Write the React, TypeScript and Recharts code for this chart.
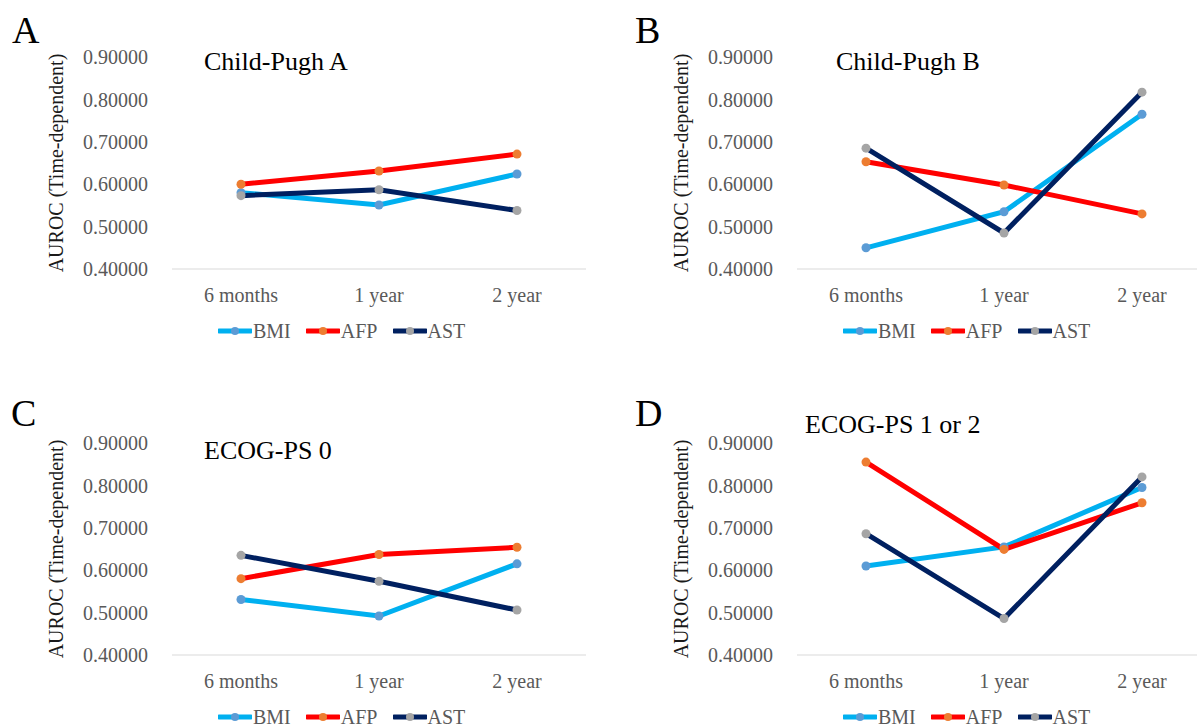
import React from 'react';
import { LineChart, Line, XAxis, YAxis, Legend } from 'recharts';

// time points on the x axis
const periods = ['6 months', '1 year', '2 year'];
const yTicks = [0.4, 0.5, 0.6, 0.7, 0.8, 0.9];

// AUROC values read per panel
const bmiA = [0.58, 0.551, 0.624];
const afpA = [0.6, 0.631, 0.671];
const astA = [0.573, 0.587, 0.538];

const bmiB = [0.45, 0.535, 0.765];
const afpB = [0.653, 0.598, 0.53];
const astB = [0.685, 0.485, 0.817];

const bmiC = [0.531, 0.492, 0.615];
const afpC = [0.58, 0.637, 0.654];
const astC = [0.635, 0.574, 0.506];

const bmiD = [0.61, 0.655, 0.795];
const afpD = [0.855, 0.649, 0.759];
const astD = [0.686, 0.486, 0.82];

const SERIES = [
  { key: 'BMI', color: '#00B0F0', marker: '#5B9BD5' },
  { key: 'AFP', color: '#FF0000', marker: '#ED7D31' },
  { key: 'AST', color: '#002060', marker: '#A5A5A5' },
];

const FONT = "'Liberation Serif', 'Times New Roman', serif";

const buildRows = (bmi: number[], afp: number[], ast: number[]) =>
  periods.map((p, i) => ({ period: p, BMI: bmi[i], AFP: afp[i], AST: ast[i] }));

const renderYLabel = (props: any) => {
  const vb = props.viewBox || {};
  const cx = (vb.x ?? 0) + 56;
  const cy = (vb.y ?? 57) + (vb.height ?? 212) / 2;
  return (
    <text
      x={cx}
      y={cy}
      transform={`rotate(-90, ${cx}, ${cy})`}
      textAnchor="middle"
      dominantBaseline="central"
      fontFamily={FONT}
      fontSize={20}
      fill="#1a1a1a"
    >
      AUROC (Time-dependent)
    </text>
  );
};

const renderLegend = () => (
  <div
    style={{
      display: 'flex',
      alignItems: 'center',
      height: 20,
      fontFamily: FONT,
      fontSize: 20,
      color: '#595959',
      whiteSpace: 'nowrap',
    }}
  >
    {SERIES.map((s) => (
      <div key={s.key} style={{ display: 'flex', alignItems: 'center', marginRight: 15 }}>
        <svg width={34} height={20}>
          <line x1={1} x2={33} y1={10} y2={10} stroke={s.color} strokeWidth={5} strokeLinecap="round" />
          <circle cx={17} cy={10} r={4} fill={s.marker} />
        </svg>
        <span style={{ marginLeft: 1, lineHeight: '20px' }}>{s.key}</span>
      </div>
    ))}
  </div>
);

interface PanelProps {
  left: number;
  top: number;
  rows: any[];
}

function Panel({ left, top, rows }: PanelProps) {
  return (
    <div style={{ position: 'absolute', left, top }}>
      <LineChart width={600} height={360} data={rows} margin={{ top: 57, right: 14, bottom: 21, left: 0 }}>
        <XAxis
          dataKey="period"
          height={50}
          padding={{ left: 69, right: 69 }}
          tickLine={false}
          tickSize={0}
          tickMargin={19}
          axisLine={{ stroke: '#D9D9D9', strokeWidth: 1 }}
          tick={{ fill: '#595959', fontSize: 20, fontFamily: FONT }}
        />
        <YAxis
          width={172}
          domain={[0.4, 0.9]}
          ticks={yTicks}
          tickFormatter={(v) => v.toFixed(5)}
          tickLine={false}
          axisLine={false}
          tickSize={0}
          tickMargin={24}
          tick={{ fill: '#595959', fontSize: 20, fontFamily: FONT }}
          label={renderYLabel}
        />
        <Legend content={renderLegend} wrapperStyle={{ left: 218, top: 321, width: 'auto' }} />
        {SERIES.map((s) => (
          <Line
            key={s.key}
            type="linear"
            dataKey={s.key}
            stroke={s.color}
            strokeWidth={5}
            dot={{ r: 4.5, fill: s.marker, stroke: s.marker, strokeWidth: 0 }}
            activeDot={false}
            isAnimationActive={false}
          />
        ))}
      </LineChart>
    </div>
  );
}

export default function App() {
  return (
    <div
      style={{
        position: 'absolute',
        left: 0,
        top: 0,
        width: 1197,
        height: 725,
        overflow: 'hidden',
        background: '#fff',
      }}
    >
      <Panel left={0} top={0} rows={buildRows(bmiA, afpA, astA)} />
      <Panel left={625} top={0} rows={buildRows(bmiB, afpB, astB)} />
      <Panel left={0} top={386} rows={buildRows(bmiC, afpC, astC)} />
      <Panel left={625} top={386} rows={buildRows(bmiD, afpD, astD)} />

      {/* panel letters and titles */}
      <svg
        width={1197}
        height={725}
        style={{ position: 'absolute', left: 0, top: 0, pointerEvents: 'none' }}
        fontFamily={FONT}
        fill="#000"
      >
        <text x={12} y={43} fontSize={38}>A</text>
        <text x={635} y={43} fontSize={38}>B</text>
        <text x={11} y={426} fontSize={38}>C</text>
        <text x={635} y={426} fontSize={38}>D</text>
        <text x={204} y={70} fontSize={26}>Child-Pugh A</text>
        <text x={836} y={70} fontSize={26}>Child-Pugh B</text>
        <text x={204} y={459} fontSize={26}>ECOG-PS 0</text>
        <text x={805} y={433} fontSize={26}>ECOG-PS 1 or 2</text>
      </svg>
    </div>
  );
}
